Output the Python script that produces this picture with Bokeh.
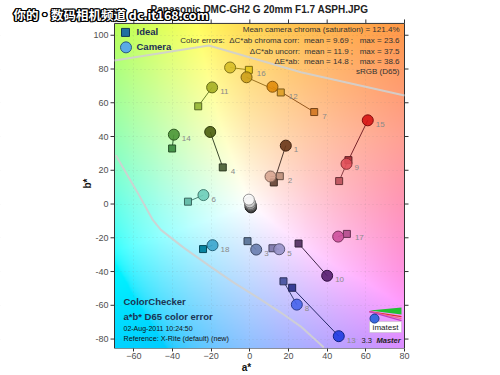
import numpy as np
from bokeh.plotting import figure
from bokeh.models import ColumnDataSource, Label, FixedTicker
from bokeh.embed import file_html
from bokeh.resources import INLINE

# ---------------- data ----------------
patch_ids = list(range(1, 25))
ideal_a = [12.4, 15.5, -1.2, -14.0, 11.7, -32.0, 33.3, 17.4, 46.2, 25.2, -26.7, 16.0,
           21.9, -40.2, 51.0, -0.5, 50.2, -24.2, -0.4, -0.6, -0.7, -0.2, -0.4, -0.1]
ideal_b = [12.8, 16.5, -22.0, 21.7, -26.2, 1.4, 54.5, -45.8, 13.6, -23.4, 57.9, 66.1,
           -49.6, 32.9, 26.0, 79.5, -17.7, -26.7, 1.2, -0.3, -0.5, -0.3, -1.2, -1.0]
camera_a = [18.6, 10.7, 3.3, -20.5, 15.2, -24.0, 11.7, 24.3, 50.0, 40.0, -19.5, -1.7,
            46.0, -39.3, 61.0, -10.2, 45.7, -19.3, -0.5, 0.0, 0.3, 0.5, 0.6, 0.6]
camera_b = [34.6, 16.3, -27.0, 42.7, -26.8, 5.3, 69.5, -59.6, 23.8, -42.5, 69.1, 75.1,
            -78.3, 41.1, 49.6, 80.9, -19.3, -24.4, 2.6, 1.0, 0.0, -0.8, -1.6, -2.0]
ideal_colors = ["#735244", "#c29682", "#627a9d", "#576c43", "#8580b1", "#67bdaa",
                "#d67e2c", "#505ba6", "#c15a63", "#5e3c6c", "#9dbc40", "#e0a32e",
                "#383d96", "#469449", "#af363c", "#e7c71f", "#bb5695", "#0885a1",
                "#f3f3f2", "#c8c8c8", "#a0a0a0", "#7a7a79", "#555555", "#343434"]
camera_colors = ["#69371a", "#d7a591", "#697daf", "#4b5f0f", "#9691c8", "#6ecdb9",
                 "#e18c0a", "#4664eb", "#e1505a", "#551e6e", "#a5af23", "#cda019",
                 "#1e3ce1", "#4b9637", "#d71414", "#d7be28", "#cd509b", "#3ca5cd",
                 "#fafafa", "#cdcdcd", "#a5a5a5", "#7d7d7d", "#555555", "#2d2d2d"]
x_ticks = [-60, -40, -20, 0, 20, 40, 60, 80]
y_ticks = [-80, -60, -40, -20, 0, 20, 40, 60, 80, 100]
# light grey gamut-boundary curves
top_curve_a = [-70.0, -21.2, 26.4, 80.0]
top_curve_b = [85.0, 93.9, 78.1, 64.3]
low_curve_a = [-69.3, -58.1, -50.2, -46.0, -34.1, -20.2, -8.3, 4.1, 16.0, 26.4, 38.3]
low_curve_b = [28.9, 6.9, -9.4, -15.3, -26.0, -37.2, -46.6, -55.5, -64.3, -72.6, -85.0]

title = "Panasonic DMC-GH2 G 20mm F1.7 ASPH.JPG"
NB = "\u00a0"
stats_lines = ["Mean camera chroma (saturation) = 121.4%",
               "Color errors:" + NB * 2 + "\u0394C*ab chroma corr:" + NB * 2 + "mean = 9.69 ;" + NB * 3 + "max = 23.6",
               "\u0394C*ab uncorr:" + NB * 2 + "mean = 11.9 ;" + NB * 3 + "max = 37.5",
               "\u0394E*ab:" + NB * 2 + "mean = 14.8 ;" + NB * 3 + "max = 38.6",
               "sRGB (D65)"]

BOX_A = (-70, 80)             # visible plot box (a* limits)
BOX_B = (-85.6, 107)          # visible plot box (b* limits)

# ---------------- layout constants (canvas px) ----------------
W, H = 492, 375
FL, FT, FW, FH = 114, 23, 290, 326   # plot box left/top/width/height
PXA = FW / (BOX_A[1] - BOX_A[0])     # px per a* unit
PXB = FH / (BOX_B[1] - BOX_B[0])     # px per b* unit
XR = (BOX_A[0] - FL / PXA, BOX_A[1] + (W - FL - FW) / PXA)
YR = (BOX_B[0], BOX_B[1] + FT / PXB)
FB = FT + FH                          # frame bottom (canvas px)

p = figure(width=W, height=H, x_range=XR, y_range=YR, output_backend="svg",
           toolbar_location=None, y_axis_location=None, min_border=0,
           min_border_left=0, min_border_top=0, min_border_right=0,
           min_border_bottom=H - FB,
           background_fill_color="white", border_fill_color="white")
p.outline_line_color = None

# ---------------- background (a*b* colour plane) ----------------
def lab_lin(L, a, b):
    fy = (L + 16) / 116.0
    fx = fy + a / 500.0
    fz = fy - b / 200.0
    d = 6 / 29.0
    finv = lambda t: np.where(t > d, t ** 3, 3 * d * d * (t - 4 / 29.0))
    X = 0.95047 * finv(fx)
    Y = finv(np.full_like(fx, fy))
    Z = 1.08883 * finv(fz)
    R = 3.2406 * X - 1.5372 * Y - 0.4986 * Z
    G = -0.9689 * X + 1.8758 * Y + 0.0415 * Z
    B = 0.0557 * X - 0.2040 * Y + 1.0570 * Z
    return R, G, B

nx, ny = 300, 386
ga = np.linspace(BOX_A[0], BOX_A[1], nx)
gb = np.linspace(BOX_B[0], BOX_B[1], ny)
A, Bm = np.meshgrid(ga, gb)
L0, CS = 85.0, 0.62
fa = np.where(A > 0,
              1 - 0.25 * np.clip(Bm / 40.0, 0, 1) + 0.15 * np.clip(-Bm / 40.0, 0, 1),
              1.0)
fb = np.where(Bm < 0, 0.75 + 0.25 * np.clip(A / 60.0, 0, 1), 1.0)
r, g, b = lab_lin(L0, A * fa * CS, Bm * fb * CS)
lin = np.clip(np.stack([r, g, b], axis=-1), 0, None)
lin = lin / lin.max(axis=-1, keepdims=True)
def gam(c):
    c = np.clip(c, 0, 1)
    return np.where(c <= 0.0031308, 12.92 * c, 1.055 * c ** (1 / 2.4) - 0.055)
rgb = gam(lin)
img = np.empty((ny, nx), dtype=np.uint32)
view = img.view(dtype=np.uint8).reshape((ny, nx, 4))
view[..., 0:3] = (rgb * 255).round().astype(np.uint8)
view[..., 3] = 255
p.image_rgba(image=[img], x=BOX_A[0], y=BOX_B[0], dw=BOX_A[1] - BOX_A[0],
             dh=BOX_B[1] - BOX_B[0], level="image")

# ---------------- grid ----------------
p.xgrid.ticker = FixedTicker(ticks=x_ticks)
p.ygrid.ticker = FixedTicker(ticks=y_ticks)
for gr in (p.xgrid, p.ygrid):
    gr.grid_line_color = "#7a7a7a"
    gr.grid_line_alpha = 0.18
    gr.grid_line_dash = "1 3"

# white surround outside the plot box (covers grid lines there)
p.quad(left=[XR[0], BOX_A[1], XR[0]], right=[BOX_A[0], XR[1], XR[1]],
       bottom=[YR[0], YR[0], BOX_B[1]], top=[YR[1], YR[1], YR[1]],
       fill_color="white", line_color=None)

# ---------------- x axis (library axis) ----------------
xa = p.xaxis[0]
xa.ticker = FixedTicker(ticks=x_ticks)
xa.axis_line_color = None
xa.major_tick_line_color = "#333333"
xa.major_tick_in = 0
xa.major_tick_out = 3
xa.minor_tick_line_color = None
xa.major_label_text_font = "Liberation Sans"
xa.major_label_text_font_size = "9px"
xa.major_label_text_color = "#505050"
xa.major_label_standoff = 1
xa.axis_label = "a*"
xa.axis_label_standoff = 0
xa.axis_label_text_font = "Liberation Sans"
xa.axis_label_text_font_size = "10px"
xa.axis_label_text_font_style = "bold"
xa.axis_label_text_color = "#111111"

# plot box outline, side ticks and y tick labels
p.quad(left=[BOX_A[0]], right=[BOX_A[1]], bottom=[BOX_B[0]], top=[BOX_B[1]],
       fill_color=None, line_color="#333333", line_width=1)
tk_a = 4 / PXA
tk_b = 4 / PXB
ny_t = len(y_ticks)
nx_t = len(x_ticks)
p.segment(x0=[BOX_A[0] - tk_a] * ny_t, y0=y_ticks, x1=[BOX_A[0]] * ny_t, y1=y_ticks,
          line_color="#333333")
p.segment(x0=[BOX_A[1]] * ny_t, y0=y_ticks, x1=[BOX_A[1] + tk_a] * ny_t, y1=y_ticks,
          line_color="#333333")
p.segment(x0=x_ticks, y0=[BOX_B[1]] * nx_t, x1=x_ticks, y1=[BOX_B[1] + tk_b] * nx_t,
          line_color="#333333")
p.text(x=[BOX_A[0] - 6 / PXA] * ny_t, y=y_ticks, text=[str(t) for t in y_ticks],
       text_align="right", text_baseline="middle", text_font_size="9px",
       text_color="#505050", text_font={"value": "Liberation Sans"})

# ---------------- curves ----------------
p.line(top_curve_a, top_curve_b, line_color="#d0d0d0", line_width=2, line_alpha=0.9)
p.line(low_curve_a, low_curve_b, line_color="#d0d0d0", line_width=2, line_alpha=0.9)

# ---------------- patches ----------------
def darker(hx, f):
    h = hx.lstrip("#")
    c = [int(h[i:i + 2], 16) for i in (0, 2, 4)]
    return "#%02x%02x%02x" % tuple(int(v * f) for v in c)

ia, ib, ca, cb = (np.array(v) for v in (ideal_a, ideal_b, camera_a, camera_b))
order = list(range(17, -1, -1)) + [23, 22, 21, 20, 19, 18]
src = ColumnDataSource(dict(
    ia=ia[order], ib=ib[order], ca=ca[order], cb=cb[order],
    icol=[ideal_colors[i] for i in order], ccol=[camera_colors[i] for i in order],
    iline=[darker(ideal_colors[i], 0.55) for i in order],
    cline=[darker(camera_colors[i], 0.6) for i in order],
    seg=[darker(ideal_colors[i], 0.7) for i in order]))
p.segment(x0="ia", y0="ib", x1="ca", y1="cb", source=src, line_color="seg", line_width=1)
p.scatter(x="ia", y="ib", source=src, marker="square", size=7, fill_color="icol",
          line_color="iline", line_width=1)
p.scatter(x="ca", y="cb", source=src, marker="circle", size=11, fill_color="ccol",
          line_color="cline", line_width=1, fill_alpha=0.9)

# patch number labels, next to the right-most point of each pair
lab_idx = list(range(18))
lx = [max(ia[i], ca[i]) for i in lab_idx]
ly = [ib[i] if ia[i] > ca[i] else cb[i] for i in lab_idx]
lt = [str(patch_ids[i]) for i in lab_idx]
p.text(x=lx, y=ly, text=lt, x_offset=8, y_offset=4, text_font_size="8px",
       text_color="#8a8a8a", text_baseline="middle", text_align="left",
       text_font={"value": "Liberation Sans"})

# ---------------- helpers for decorations (canvas px -> data) ----------------
def dx_(px):
    return XR[0] + px / PXA

def dy_(py):
    return BOX_B[1] - (py - FT) / PXB

# legend (in-plot)
p.scatter(x=[dx_(125)], y=[dy_(32)], marker="square", size=8, fill_color="#1f6fa0",
          line_color="#123a55")
p.scatter(x=[dx_(125.5)], y=[dy_(47)], marker="circle", size=11, fill_color="#5aaae6",
          line_color="#2a5a80")

# imatest logo
p.patch([dx_(369), dx_(401), dx_(401)], [dy_(311), dy_(308), dy_(315)],
        fill_color="#22c032", line_color=None)
for yy, col in [(317, "#e03030"), (319, "#f07090"), (321, "#c040c0")]:
    p.line([dx_(369), dx_(401)], [dy_(312), dy_(yy)], line_color=col, line_width=1.2)
p.quad(left=[dx_(369)], right=[dx_(401)], top=[dy_(322)], bottom=[dy_(333)],
       fill_color="white", line_color="#bbbbbb", line_width=0.5)
p.scatter(x=[dx_(374)], y=[dy_(319)], marker="circle", size=9, fill_color="#3a6ae0",
          line_color="#1a3a90")

# ---------------- text helpers (canvas pixel coords) ----------------
def put(text, px, py, size="8px", color="#333333", style="normal", align="left",
        font="Liberation Sans", angle=0.0):
    lab = Label(x=px, y=FB - py, x_units="screen", y_units="screen",
                text=text, text_font_size=size, text_color=color, text_font_style=style,
                text_align=align, text_baseline="middle", text_font=font, angle=angle)
    p.add_layout(lab)

put("Ideal", 136, 32, "9.5px", "#1c2f55", "bold")
put("Camera", 136, 47, "9.5px", "#1c2f55", "bold")
ys = [30, 41, 51.5, 62, 72]
for s, y in zip(stats_lines, ys):
    put(s, 399, y, "8px", "#333333", "normal", "right")
put("ColorChecker", 123, 302, "9.5px", "#1c3452", "bold")
put("a*b* D65 color error", 123, 316.5, "9.5px", "#1c3452", "bold")
put("02-Aug-2011 10:24:50", 123, 328.5, "7px", "#111111")
put("Reference: X-Rite (default) (new)", 123, 338.5, "7.2px", "#111111")
put("3.3", 361, 341, "7.5px", "#222222")
put("Master", 376, 341, "7.5px", "#222222", "bold italic")
put("imatest", 385, 328, "8px", "#222222", "normal", "center")
put(title, 259, 10, "10px", "#222222", "bold", "center")
put("b*", 87, 184, "10px", "#111111", "bold", "center", angle=np.pi / 2)

# watermark (white text, black outline)
wm = "\u4f60\u7684\u30fb\u6570\u7801\u76f8\u673a\u9891\u9053 dc.it168.com"
for ox, oy in [(-1, -1), (1, -1), (-1, 1), (1, 1), (0, -1.4), (0, 1.4), (-1.4, 0), (1.4, 0)]:
    put(wm, 13 + ox, 15 + oy, "12.5px", "black", "bold", font="Noto Sans CJK SC")
put(wm, 13, 15, "12.5px", "white", "bold", font="Noto Sans CJK SC")

open("out.html", "w").write(file_html(p, INLINE))
